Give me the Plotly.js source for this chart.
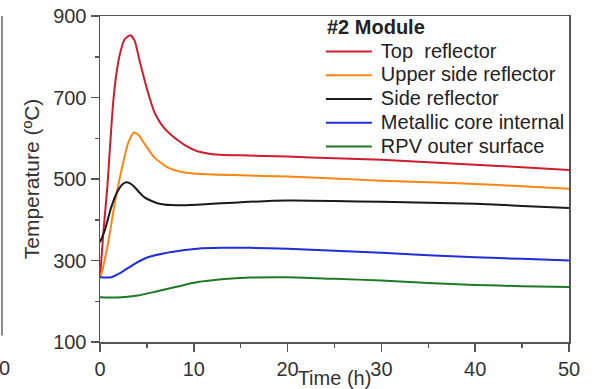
<!DOCTYPE html>
<html>
<head>
<meta charset="utf-8">
<script src="https://cdn.plot.ly/plotly-3.0.1.min.js"></script>
<style>html,body{margin:0;padding:0;background:#fff;}#chart{width:600px;height:389px;}</style>
</head>
<body>
<div id="chart"></div>
<script>
// Data
const topT   = [0, 0.4, 0.78, 1.1, 1.39, 1.74, 2.2, 2.63, 3.23, 3.7, 4.2, 4.77, 5.3, 5.8, 6.4, 7.0, 7.6, 8.3, 9.0, 10.4, 12, 15, 20, 25, 30, 35, 40, 45, 50];
const topV   = [259, 380, 480, 590, 684, 757, 814, 843, 853, 839, 792, 741, 698, 664, 639, 621, 608, 595, 584, 568, 561, 558, 555, 551, 547, 541, 535, 529, 522];

const upperT = [0, 0.14, 0.85, 1.56, 2.27, 3.0, 3.62, 4.1, 4.75, 5.8, 7.25, 9.0, 10.4, 15, 20, 25, 30, 35, 40, 45, 50];
const upperV = [259, 267, 341, 439, 520, 588, 614, 608, 586, 553, 528, 516, 513, 509, 506, 501, 496, 492, 488, 482, 476];

const sideT  = [0, 0.5, 1.2, 1.9, 2.4, 2.8, 3.2, 3.7, 4.2, 4.75, 5.5, 6.2, 7.6, 10.4, 15, 20, 25, 30, 35, 40, 45, 50];
const sideV  = [345, 373, 431, 471, 487, 492, 489, 480, 467, 455, 446, 440, 436, 437, 443, 447, 446, 444, 442, 439, 434, 429];

const metalT = [0, 1.2, 2.27, 3.7, 5.1, 6.9, 8.5, 10.4, 13, 16, 20, 25, 30, 35, 40, 45, 50];
const metalV = [259, 259, 271, 292, 308, 318, 324, 329, 331, 331, 329, 324, 319, 313, 308, 304, 300];

const rpvT   = [0, 1.9, 4.05, 6.2, 8.3, 10.4, 13, 16, 20, 25, 30, 35, 40, 45, 50];
const rpvV   = [210, 209, 214, 225, 236, 247, 254, 258, 259, 255, 251, 245, 240, 237, 235];

const names  = ["Top  reflector", "Upper side reflector", "Side reflector", "Metallic core internal", "RPV outer surface"];
const colors = ["#cc1d2c", "#ff8412", "#1a1a1a", "#1f2fd6", "#1d7a24"];
const xs = [topT, upperT, sideT, metalT, rpvT];
const ys = [topV, upperV, sideV, metalV, rpvV];

const xTicks = [0, 10, 20, 30, 40, 50];
const yTicks = [100, 300, 500, 700, 900];

const traces = names.map((n, i) => ({
  x: xs[i], y: ys[i], name: n, type: "scatter", mode: "lines",
  line: {color: colors[i], width: 2, shape: "spline", smoothing: 0.6}
}));

const font = "Liberation Sans, Arial, sans-serif";
const axisCommon = {
  showline: true, mirror: true, linecolor: "#555", linewidth: 1.5,
  ticks: "outside", ticklen: 8, tickwidth: 1.5, tickcolor: "#555",
  showgrid: false, zeroline: false,
  tickfont: {family: font, size: 20, color: "#333"},
  minor: {ticks: "outside", ticklen: 4, tickwidth: 1.5, tickcolor: "#555", showgrid: false}
};

const layout = {
  width: 600, height: 389,
  margin: {l: 100, r: 31, t: 15, b: 47},
  paper_bgcolor: "#fff", plot_bgcolor: "#fff",
  font: {family: font, color: "#333"},
  showlegend: true,
  xaxis: Object.assign({}, axisCommon, {
    range: [0, 50], tickvals: xTicks, ticktext: xTicks.map(String),
    minor: Object.assign({}, axisCommon.minor, {dtick: 5, tick0: 0}),
    title: {text: "Time (h)", font: {family: font, size: 20, color: "#333"}, standoff: 0}
  }),
  yaxis: Object.assign({}, axisCommon, {
    range: [100, 900], tickvals: yTicks, ticktext: yTicks.map(String),
    minor: Object.assign({}, axisCommon.minor, {dtick: 100, tick0: 0}),
    title: {text: "Temperature (ºC)", font: {family: font, size: 21, color: "#333"}, standoff: 8}
  }),
  legend: {
    x: 0.456, y: 1.012, xanchor: "left", yanchor: "top",
    bgcolor: "rgba(0,0,0,0)", borderwidth: 0,
    font: {family: font, size: 16, color: "#222"},
    title: {text: "\u00a0\u00a0<b>#2 Module</b>", font: {family: font, size: 18, color: "#222"}},
    tracegroupgap: 0, itemwidth: 57
  },
  shapes: [
    {type: "line", xref: "paper", yref: "paper", x0: -0.209, x1: -0.209, y0: 0.02, y1: 1.0,
     line: {color: "#666", width: 1.5}}
  ],
  annotations: [
    {xref: "paper", yref: "paper", x: -0.203, y: -0.04, text: "0", showarrow: false,
     xanchor: "center", yanchor: "top", font: {family: font, size: 20, color: "#333"}}
  ]
};

Plotly.newPlot("chart", traces, layout, {displayModeBar: false, staticPlot: true}).then(gd => {
  // enlarge legend text and line samples to match the reference look
  gd.querySelectorAll(".legend [clip-path]").forEach(e => e.removeAttribute("clip-path"));
  gd.querySelectorAll(".legend .legendtext").forEach(t => { t.style.fontSize = "20px"; });
  gd.querySelectorAll(".legend .legendtitletext").forEach(t => { t.style.fontSize = "20px"; });
  gd.querySelectorAll(".legend .legendlines path").forEach(p => p.setAttribute("d", "M12,0h46"));
});
</script>
</body>
</html>
